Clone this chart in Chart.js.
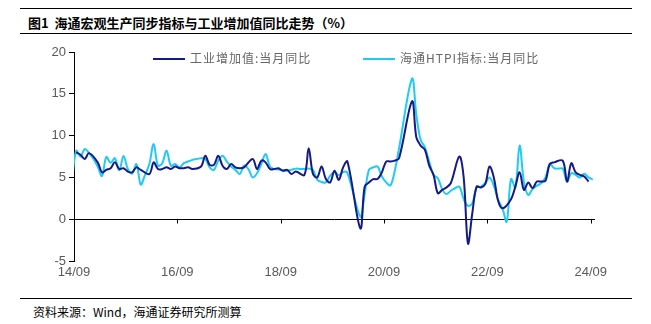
<!DOCTYPE html>
<html>
<head>
<meta charset="utf-8">
<script src="https://cdn.jsdelivr.net/npm/chart.js@4.4.1/dist/chart.umd.min.js"></script>
<style>
  body { margin: 0; width: 651px; height: 324px; background: #fff; position: relative; overflow: hidden;
         font-family: "Liberation Sans", Arial, "Noto Sans CJK SC", sans-serif; }
  .title { position: absolute; left: 20px; top: 8px; width: 612px; height: 26px;
           border-top: 1px solid #000; border-bottom: 1px solid #000; box-sizing: border-box; }
  .title span { position: absolute; left: 8px; top: 4px; font-size: 13px; font-weight: bold; color: #000;
                font-family: "Noto Sans CJK SC", sans-serif; white-space: nowrap; }
  .foot { position: absolute; left: 20px; top: 298px; width: 612px; border-top: 1px solid #000; }
  .foot span { position: absolute; left: 13px; top: 4px; font-size: 12px; color: #000; white-space: nowrap;
               font-family: "Noto Sans CJK SC", sans-serif; }
  #wrap { position: absolute; left: 0; top: 40px; width: 651px; height: 250px; }
  .leg { position: absolute; top: 49px; font-size: 12px; color: #666; letter-spacing: 1px; white-space: nowrap;
         font-family: "Noto Sans CJK SC", sans-serif; }
  .leg i { display: inline-block; width: 32px; height: 2px; vertical-align: middle; margin-right: 5px; position: relative; top: -1px; }
</style>
</head>
<body>
<div class="title"><span>图1&nbsp;&nbsp;海通宏观生产同步指标与工业增加值同比走势（%）</span></div>
<div id="wrap"><canvas id="c" width="651" height="250"></canvas></div>
<div class="leg" style="left:153px"><i style="background:#151A85"></i>工业增加值:当月同比</div>
<div class="leg" style="left:363px"><i style="background:#1ECBF5"></i>海通HTPI指标:当月同比</div>
<div class="foot"><span>资料来源：Wind，海通证券研究所测算</span></div>
<script>
// months from 2014-08 to 2024-09
const months = [];
for (let y = 2014; y <= 2024; y++) {
  for (let m = 1; m <= 12; m++) {
    if ((y === 2014 && m < 8) || (y === 2024 && m > 9)) continue;
    months.push(String(y).slice(2) + "/" + String(m).padStart(2, "0"));
  }
}

// 工业增加值:当月同比 (no January prints; 2020/2021 Jan-Feb left out)
const industry = [
  null, 8.0, 7.7, 7.2, 7.9,
  null, 6.8, 5.6, 5.9, 6.1, 6.8, 6.0, 6.1, 5.7, 5.6, 6.2, 5.9,
  null, 5.4, 6.8, 6.0, 6.0, 6.2, 6.0, 6.3, 6.1, 6.1, 6.2, 6.0,
  null, 6.3, 7.6, 6.5, 6.5, 7.6, 6.4, 6.0, 6.6, 6.2, 6.1, 6.2,
  null, 7.2, 6.0, 7.0, 6.8, 6.0, 6.0, 6.1, 5.8, 5.9, 5.4, 5.7,
  null, 5.3, 8.5, 5.4, 5.0, 6.3, 4.8, 4.4, 5.8, 4.7, 6.2, 6.9,
  null, null, -1.1, 3.9, 4.4, 4.8, 4.8, 5.6, 6.9, 6.9, 7.0, 7.3,
  null, null, 14.1, 9.8, 8.8, 8.3, 6.4, 5.3, 3.1, 3.5, 3.8, 4.3,
  null, 7.5, 5.0, -2.9, 0.7, 3.9, 3.8, 4.2, 6.3, 5.0, 2.2, 1.3,
  null, 2.4, 3.9, 5.6, 3.5, 4.4, 3.7, 4.5, 4.5, 4.6, 6.6, 6.8,
  null, 7.0, 4.5, 6.7, 5.6, 5.3, 5.1, 4.5, null
];

// 海通HTPI指标:当月同比
const htpi = [
  4.3, 8.2, 7.5, 8.4, 7.9,
  7.2, 6.3, 5.15, 7.45, 6.75, 7.3, 5.85, 7.55, 6.0, 5.45, 6.6, 4.15,
  5.3, 6.6, 9.0, 6.4, 6.7, 8.2, 6.4, 6.6, 6.2, 6.7, 6.9, 7.1,
  7.2, 7.3, 7.2, 6.2, 5.9, 7.0, 7.6, 6.9, 6.3, 5.9, 5.4, 6.4,
  6.0, 5.0, 5.5, 6.6, 7.8, 6.3, 6.0, 5.95, 5.85, 5.8, 5.9, 6.05,
  6.0, 6.0, 6.05, 5.9, 4.7, 4.45, 4.4, 5.2, 5.65, 5.25, 5.65, 5.55,
  null, null, 0.3, 3.0, 5.9, 6.2, 6.3, 5.1, 4.4, 4.05, 5.8, 8.5,
  null, null, 16.8, 12.5, 9.5, 8.6, 6.9, 5.3, 4.9, 3.6, 3.0, 3.4,
  3.7, 3.9, 2.4, 1.6, 1.9, 3.8, 3.9, 4.3, 5.0, 4.0, 2.3, 1.3,
  -0.3, 4.8, 3.8, 8.8, 4.4, 2.9, 3.6, 4.0, 4.3, 5.0, 6.6, 6.1,
  6.05, 6.05, 4.5, 5.5, 5.3, 5.0, 5.45, 5.0, 4.75
];

const yTicks = [-5, 0, 5, 10, 15, 20];
const xTickLabels = ["14/09", "16/09", "18/09", "20/09", "22/09", "24/09"];

// x = months since 2014-09, points sit mid-month
const toPoints = arr => arr.map((v, i) => ({ x: i - 0.5, y: v }));

const zeroAxis = {
  id: "zeroAxis",
  beforeDatasetsDraw(chart) {
    const { ctx, chartArea, scales } = chart;
    const y0 = Math.round(scales.y.getPixelForValue(0)) + 0.5;
    ctx.save();
    ctx.strokeStyle = "#000";
    ctx.lineWidth = 1;
    ctx.beginPath();
    ctx.moveTo(chartArea.left, y0);
    ctx.lineTo(chartArea.right, y0);
    scales.x.ticks.forEach(t => {
      const x = Math.round(scales.x.getPixelForValue(t.value)) + 0.5;
      ctx.moveTo(x, y0);
      ctx.lineTo(x, y0 + 4);
    });
    ctx.stroke();
    ctx.restore();
  }
};

new Chart(document.getElementById("c"), {
  type: "line",
  data: {
    datasets: [
      {
        label: "工业增加值:当月同比",
        data: toPoints(industry),
        borderColor: "#151A85",
        backgroundColor: "#151A85",
        borderWidth: 2,
        pointRadius: 0,
        tension: 0.35,
        spanGaps: true,
        clip: { left: 0, right: 5, top: 5, bottom: 5 }
      },
      {
        label: "海通HTPI指标:当月同比",
        data: toPoints(htpi),
        borderColor: "#1ECBF5",
        backgroundColor: "#1ECBF5",
        borderWidth: 2,
        pointRadius: 0,
        tension: 0.35,
        spanGaps: true,
        clip: { left: 0, right: 5, top: 5, bottom: 5 }
      }
    ]
  },
  options: {
    responsive: false,
    animation: false,
    layout: { padding: { top: 12, right: 56, left: 0, bottom: 0 } },
    plugins: { legend: { display: false }, tooltip: { enabled: false } },
    scales: {
      x: {
        type: "linear",
        min: 0,
        max: 121,
        afterBuildTicks: s => { s.ticks = xTickLabels.map((_, i) => ({ value: i * 24 })); },
        afterFit: s => { s.height = 29; },
        grid: { display: false, drawTicks: false },
        border: { display: false },
        ticks: {
          color: "#595959",
          padding: 4,
          font: { size: 13, family: "Liberation Sans" },
          callback: v => xTickLabels[v / 24]
        }
      },
      y: {
        min: -5,
        max: 20,
        afterBuildTicks: s => { s.ticks = yTicks.map(v => ({ value: v })); },
        afterFit: s => { s.width = 74; },
        grid: { drawOnChartArea: false, color: "#000", tickLength: 5 },
        border: { color: "#000", width: 1 },
        ticks: {
          color: "#595959",
          padding: 3,
          font: { size: 13, family: "Liberation Sans" }
        }
      }
    }
  },
  plugins: [zeroAxis]
});
</script>
</body>
</html>
